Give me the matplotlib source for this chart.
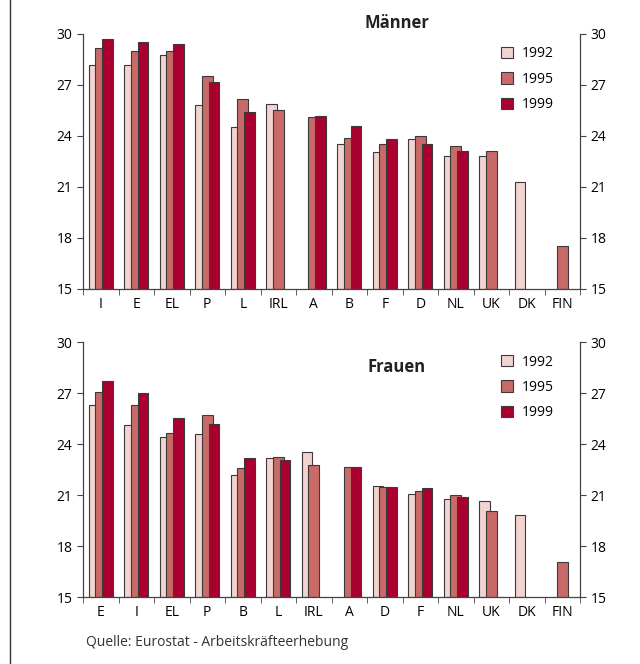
import numpy as np
import matplotlib
matplotlib.use('Agg')
import matplotlib.pyplot as plt
from matplotlib.lines import Line2D
from matplotlib.patches import Patch

plt.rcParams['font.family'] = ['Open Sans', 'DejaVu Sans']

years = ['1992', '1995', '1999']
colors = ['#f2d3cf', '#c86a68', '#a90030']

# Männer
men_labels = ['I', 'E', 'EL', 'P', 'L', 'IRL', 'A', 'B', 'F', 'D', 'NL', 'UK', 'DK', 'FIN']
men_1992 = [28.2, 28.2, 28.75, 25.8, 24.5, 25.9, np.nan, 23.5, 23.05, 23.8, 22.8, 22.8, 21.3, np.nan]
men_1995 = [29.2, 29.0, 29.0, 27.5, 26.15, 25.55, 25.1, 23.9, 23.5, 24.0, 23.4, 23.1, np.nan, 17.5]
men_1999 = [29.7, 29.5, 29.4, 27.2, 25.4, np.nan, 25.2, 24.6, 23.85, 23.55, 23.1, np.nan, np.nan, np.nan]

# Frauen
women_labels = ['E', 'I', 'EL', 'P', 'B', 'L', 'IRL', 'A', 'D', 'F', 'NL', 'UK', 'DK', 'FIN']
women_1992 = [26.3, 25.1, 24.4, 24.6, 22.15, 23.2, 23.55, np.nan, 21.55, 21.05, 20.75, 20.65, 19.85, np.nan]
women_1995 = [27.05, 26.3, 24.65, 25.7, 22.6, 23.25, 22.75, 22.65, 21.5, 21.25, 21.0, 20.05, np.nan, 17.05]
women_1999 = [27.7, 27.0, 25.55, 25.2, 23.2, 23.05, np.nan, 22.65, 21.45, 21.4, 20.9, np.nan, np.nan, np.nan]

yticks = [15, 18, 21, 24, 27, 30]


def draw_panel(ax, labels, series, title, title_xy):
    x = np.arange(len(labels))
    w = 0.30
    offs = [-0.19, 0.0, 0.19]
    for vals, c, o in zip(series, colors, offs):
        v = np.array(vals, dtype=float)
        m = ~np.isnan(v)
        ax.bar(x[m] + o, v[m] - 15, width=w, bottom=15, color=c,
               edgecolor='#3a3a3a', linewidth=0.8)
    ax.set_xlim(-0.5, len(labels) - 0.5)
    ax.set_ylim(15, 30)
    ax.set_yticks(yticks)
    ax.set_xticks(x)
    ax.set_xticklabels(labels)
    ax.set_xticks(np.arange(-0.5, len(labels)), minor=True)
    ax.tick_params(axis='x', which='major', length=0, pad=6, labelsize=10)
    ax.tick_params(axis='x', which='minor', length=4, color='#444444')
    ax.tick_params(axis='y', direction='out', length=4, color='#444444', labelsize=10,
                   right=True, labelright=True, left=True, labelleft=True)
    ax.spines['top'].set_visible(False)
    for s in ['left', 'right', 'bottom']:
        ax.spines[s].set_color('#444444')
        ax.spines[s].set_linewidth(0.9)
    handles = [Patch(facecolor=c, edgecolor='#3a3a3a', linewidth=0.8) for c in colors]
    ax.legend(handles, years, loc='upper left', bbox_to_anchor=(0.815, 1.0),
              frameon=False, fontsize=10, handlelength=0.9, handleheight=0.9,
              handletextpad=0.6, labelspacing=0.75)
    ax.figure.text(title_xy[0], title_xy[1], title, ha='center', va='center',
                   fontsize=12, fontweight='bold', color='#222222')


fig = plt.figure(figsize=(6.4, 6.64), dpi=100)
ax1 = fig.add_axes([0.1297, 0.5648, 0.7766, 0.384])
ax2 = fig.add_axes([0.1297, 0.1009, 0.7766, 0.384])

draw_panel(ax1, men_labels, [men_1992, men_1995, men_1999], 'Männer', (0.62, 0.966))
draw_panel(ax2, women_labels, [women_1992, women_1995, women_1999], 'Frauen', (0.62, 0.447))

fig.text(0.134, 0.032, 'Quelle: Eurostat - Arbeitskräfteerhebung', fontsize=10,
         color='#333333', va='center')
fig.add_artist(Line2D([0.016, 0.016], [0, 1], color='#333333', linewidth=1.0))

fig.savefig('out.png', dpi=100)
